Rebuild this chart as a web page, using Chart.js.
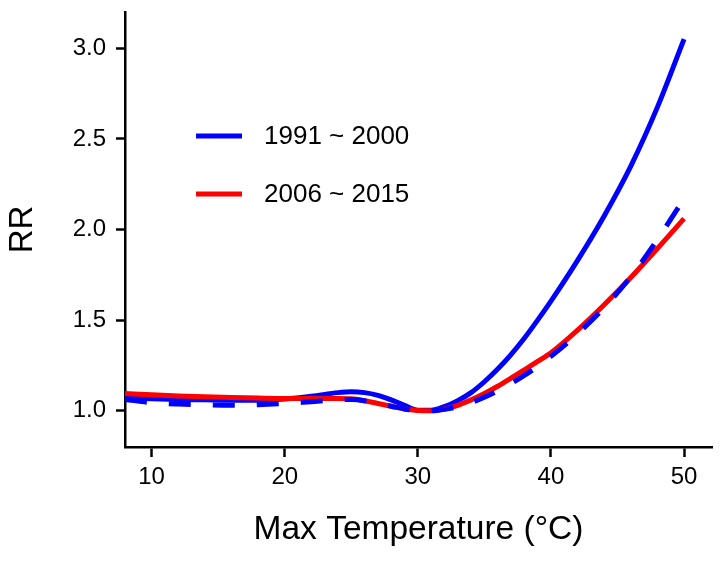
<!DOCTYPE html>
<html>
<head>
<meta charset="utf-8">
<script src="https://cdn.jsdelivr.net/npm/chart.js@4.4.1/dist/chart.umd.min.js"></script>
<style>
  html, body { margin: 0; padding: 0; background: #fff; }
  #wrap { width: 723px; height: 562px; position: relative; }
</style>
</head>
<body>
<div id="wrap"><canvas id="c" width="723" height="562"></canvas></div>
<script>
// ---- data ----
const temps = [8, 10, 12, 14, 16, 18, 20, 22, 24, 25, 26, 27, 28, 29, 30, 31, 32, 33, 34, 35, 36, 37, 38, 39, 40, 42, 44, 46, 48, 50];
const rr1991 = [1.070, 1.066, 1.062, 1.060, 1.058, 1.058, 1.065, 1.080, 1.100, 1.105, 1.100, 1.085, 1.060, 1.030, 1.003, 1.003, 1.023, 1.056, 1.100, 1.160, 1.230, 1.310, 1.400, 1.500, 1.605, 1.830, 2.075, 2.350, 2.675, 3.050];
const rr2006 = [1.095, 1.088, 1.082, 1.077, 1.073, 1.070, 1.068, 1.068, 1.068, 1.066, 1.055, 1.040, 1.025, 1.010, 1.002, 1.000, 1.010, 1.030, 1.060, 1.095, 1.135, 1.180, 1.225, 1.272, 1.320, 1.445, 1.585, 1.735, 1.895, 2.060];
const rr1991Dashed = [1.062, 1.045, 1.037, 1.033, 1.031, 1.033, 1.040, 1.050, 1.060, 1.062, 1.055, 1.040, 1.025, 1.010, 1.000, 1.000, 1.008, 1.022, 1.045, 1.075, 1.110, 1.150, 1.195, 1.245, 1.300, 1.425, 1.570, 1.740, 1.945, 2.170];
const seriesLabels = ['1991 ~ 2000', '2006 ~ 2015', '1991 ~ 2000 (dashed)'];
const xTicks = [10, 20, 30, 40, 50];
const yTicks = [1.0, 1.5, 2.0, 2.5, 3.0];

const FONT = "'Liberation Sans', Arial, Helvetica, sans-serif";
const toPts = ys => temps.map((t, i) => ({ x: t, y: ys[i] }));

const insetLegend = {
  id: 'insetLegend',
  afterDraw(chart) {
    const ctx = chart.ctx;
    const items = [2, 1]; // dataset indices shown in legend (solid blue, red)
    const x0 = 196, len = 46, textX = 264, y0 = 136, gap = 58;
    ctx.save();
    items.forEach((di, i) => {
      const ds = chart.data.datasets[di];
      const y = y0 + i * gap;
      ctx.strokeStyle = ds.borderColor;
      ctx.lineWidth = ds.borderWidth;
      ctx.lineCap = 'butt';
      ctx.setLineDash([]);
      ctx.beginPath();
      ctx.moveTo(x0, y);
      ctx.lineTo(x0 + len, y);
      ctx.stroke();
      ctx.fillStyle = '#000';
      ctx.font = '26px ' + FONT;
      ctx.textAlign = 'left';
      ctx.textBaseline = 'middle';
      ctx.fillText(ds.label, textX, y + 1);
    });
    ctx.restore();
  }
};

new Chart(document.getElementById('c'), {
  type: 'line',
  data: {
    datasets: [
      // index 0 drawn last (on top)
      { label: seriesLabels[2], data: toPts(rr1991Dashed), borderColor: '#0000ff', borderWidth: 5, borderDash: [22, 22], pointRadius: 0, cubicInterpolationMode: 'monotone', fill: false, order: 0 },
      { label: seriesLabels[1], data: toPts(rr2006), borderColor: '#ff0000', borderWidth: 5, pointRadius: 0, cubicInterpolationMode: 'monotone', fill: false, order: 1 },
      { label: seriesLabels[0], data: toPts(rr1991), borderColor: '#0000ff', borderWidth: 5, pointRadius: 0, cubicInterpolationMode: 'monotone', fill: false, order: 2 }
    ]
  },
  options: {
    responsive: false,
    animation: false,
    devicePixelRatio: 1,
    layout: { padding: { left: 0, top: 12, right: 11, bottom: 0 } },
    plugins: { legend: { display: false }, tooltip: { enabled: false } },
    scales: {
      x: {
        type: 'linear',
        min: 8, max: 52.1,
        afterFit: s => { s.height = 115; s.paddingLeft = 0; s.paddingRight = 0; },
        afterBuildTicks: s => { s.ticks = xTicks.map(v => ({ value: v })); },
        ticks: { stepSize: 10, includeBounds: false, color: '#000', font: { size: 24, family: FONT }, padding: 6, maxRotation: 0 },
        grid: { display: true, drawOnChartArea: false, drawTicks: true, tickLength: 10, tickWidth: 2.5, tickColor: '#000', color: '#000' },
        border: { display: true, color: '#000', width: 2.5 },
        title: { display: true, text: 'Max Temperature (°C)', color: '#000', font: { size: 33.5, family: FONT }, padding: { top: 0, bottom: 12 } }
      },
      y: {
        type: 'linear',
        min: 0.8, max: 3.2,
        afterFit: s => { s.width = 125; s.paddingTop = 0; s.paddingBottom = 0; },
        afterBuildTicks: s => { s.ticks = yTicks.map(v => ({ value: v })); },
        ticks: { stepSize: 0.5, includeBounds: false, color: '#000', font: { size: 24, family: FONT }, padding: 10, callback: v => Number(v).toFixed(1) },
        grid: { display: true, drawOnChartArea: false, drawTicks: true, tickLength: 9, tickWidth: 2.5, tickColor: '#000', color: '#000' },
        border: { display: true, color: '#000', width: 2.5 },
        title: { display: true, text: 'RR', color: '#000', font: { size: 33, family: FONT }, padding: { top: 3, bottom: 0 } }
      }
    }
  },
  plugins: [insetLegend]
});
</script>
</body>
</html>
